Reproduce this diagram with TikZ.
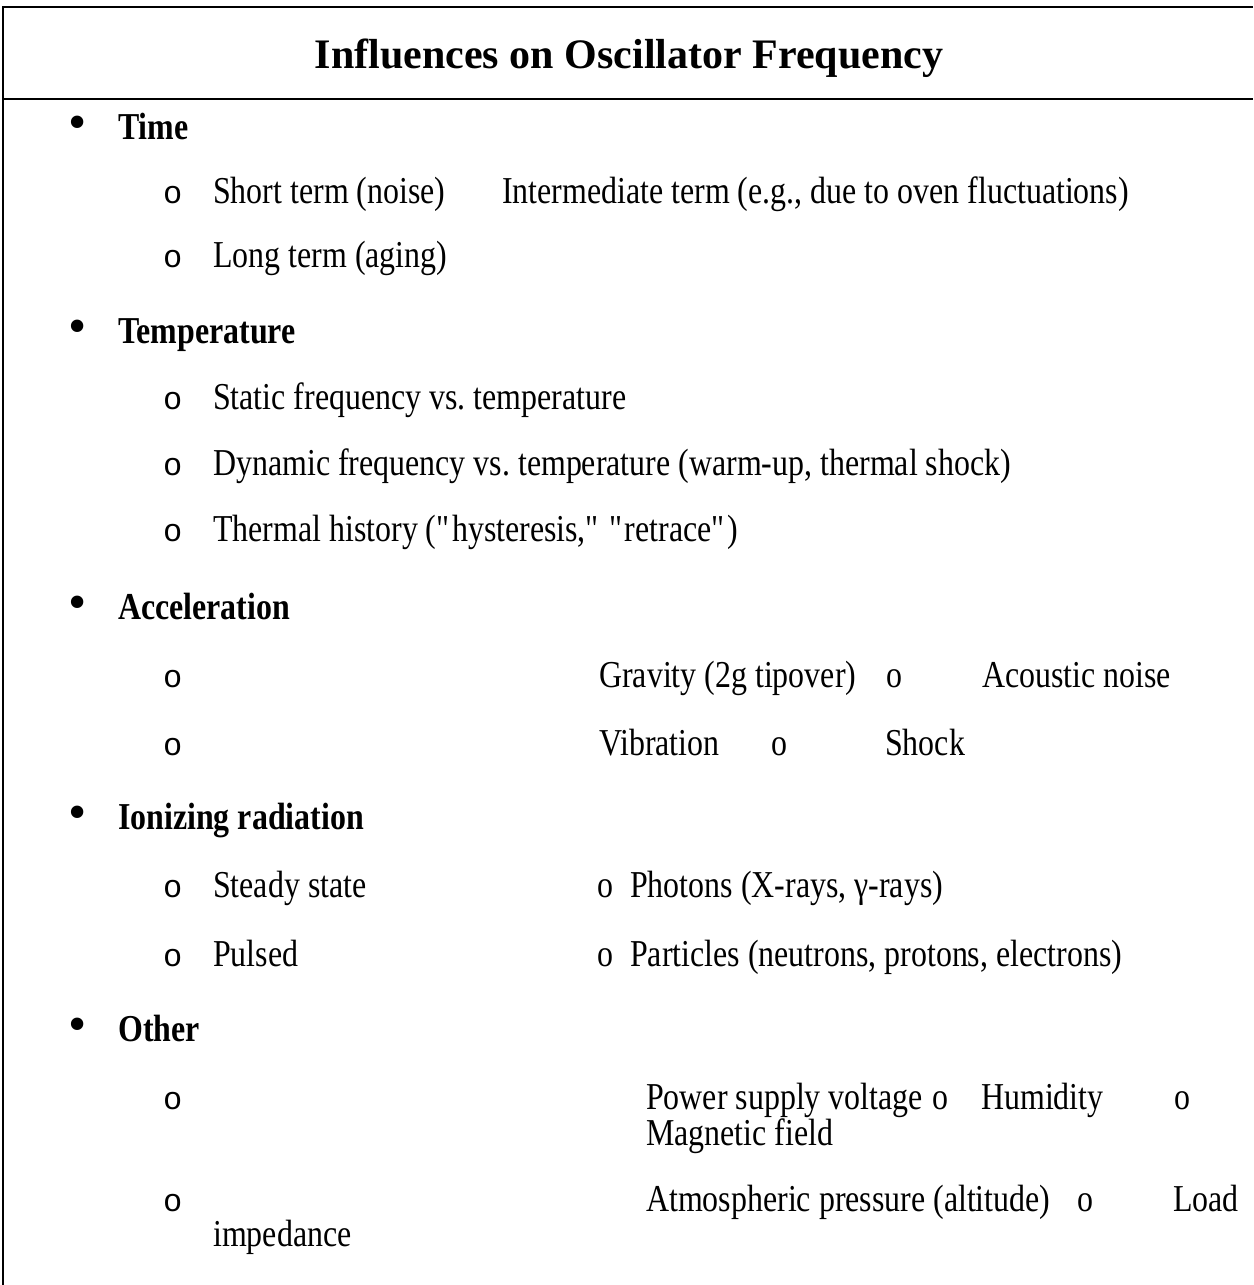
\documentclass[tikz,border=0pt]{standalone}
\usepackage{fontspec}
\setmainfont{Liberation Serif}[FakeStretch=0.84]
\newfontfamily\headfont{Liberation Serif}
\newfontfamily\obulletfont{Liberation Mono}
\usepackage{tikz}
\usetikzlibrary{positioning}
\tikzset{
    titlenode/.style = {font={\headfont\bfseries\fontsize{42}{50}\selectfont},
                        inner sep=0pt, anchor=base},
    topicnode/.style = {font={\bfseries\fontsize{38}{44}\selectfont},
                        inner sep=0pt, anchor=base west},
    itemnode/.style  = {font={\fontsize{38}{44}\selectfont},
                        inner sep=0pt, anchor=base west},
    obullet/.style   = {font={\obulletfont\fontsize{32}{38}\selectfont},
                        inner sep=0pt, anchor=base west},
    dotbullet/.style = {font={\headfont\fontsize{52}{60}\selectfont},
                        inner sep=0pt, anchor=base},
    tablerule/.style = {line width=2pt, draw=black}
}

\begin{document}
\begin{tikzpicture}[x=1pt, y=-1pt]
\useasboundingbox (0,0) rectangle (1253,1285);

% --- Table frame ---
\draw[tablerule] (1253,7) -- (2.7,7) -- (2.7,1285);
\draw[tablerule] (2.7,99) -- (1253,99);

% --- Title ---
\node[titlenode] (title) at (629,68) {Influences on Oscillator Frequency};

% --- Main topics ---
\foreach \nm/\y/\txt in {time/139/Time, temp/343/Temperature,
    accel/619/Acceleration, ioniz/829/Ionizing radiation, other/1041/Other}
{
   \node[dotbullet] (dot-\nm) at (78,\y) {•};
   \node[topicnode] (\nm) at (118,\y) {\txt};
}

% --- Sub-item markers ---
\foreach \nm/\y in {short/203, long/267, static/409, dynamic/475,
    thermal/541, grav/687, vib/755, steady/897, pulsed/966,
    power/1109, atmos/1211}
   \node[obullet] (o-\nm) at (163,\y) {o};

% --- Time ---
\node[itemnode] (short)  at (213,203) {Short term (noise)};
\node[itemnode] (interm) at (502,203) {Intermediate term (e.g., due to oven fluctuations)};
\node[itemnode] (long)   at (213,267) {Long term (aging)};

% --- Temperature ---
\node[itemnode] (static)  at (213,409) {Static frequency vs.\ temperature};
\node[itemnode] (dynamic) at (213,475) {Dynamic frequency vs.\ temperature (warm-up, thermal shock)};
\node[itemnode] (thermal) at (213,541) {Thermal history (\textquotedbl hysteresis,\textquotedbl{} \textquotedbl retrace\textquotedbl)};

% --- Acceleration ---
\node[itemnode] (grav)     at (599,687) {Gravity (2g tipover)};
\node[itemnode] (o-grav2)  at (886,687) {o};
\node[itemnode] (acoustic) at (982,687) {Acoustic noise};
\node[itemnode] (vib)      at (599,755) {Vibration};
\node[itemnode] (o-vib2)   at (771,755) {o};
\node[itemnode] (shock)    at (885,755) {Shock};

% --- Ionizing radiation ---
\node[itemnode] (steady)    at (213,897) {Steady state};
\node[itemnode] (o-photons) at (597,897) {o};
\node[itemnode] (photons)   at (630,897) {Photons (X-rays, γ-rays)};
\node[itemnode] (pulsed)    at (213,966) {Pulsed};
\node[itemnode] (o-partic)  at (597,966) {o};
\node[itemnode] (partic)    at (630,966) {Particles (neutrons, protons, electrons)};

% --- Other ---
\node[itemnode] (power)    at (646,1109) {Power supply voltage};
\node[itemnode] (o-humid)  at (932,1109) {o};
\node[itemnode] (humid)    at (981,1109) {Humidity};
\node[itemnode] (o-magn)   at (1174,1109) {o};
\node[itemnode] (magn)     at (646,1145) {Magnetic field};
\node[itemnode] (atmos)    at (646,1211) {Atmospheric pressure (altitude)};
\node[itemnode] (o-load)   at (1077,1211) {o};
\node[itemnode] (load)     at (1173,1211) {Load};
\node[itemnode] (imped)    at (213,1246) {impedance};

\end{tikzpicture}
\end{document}
